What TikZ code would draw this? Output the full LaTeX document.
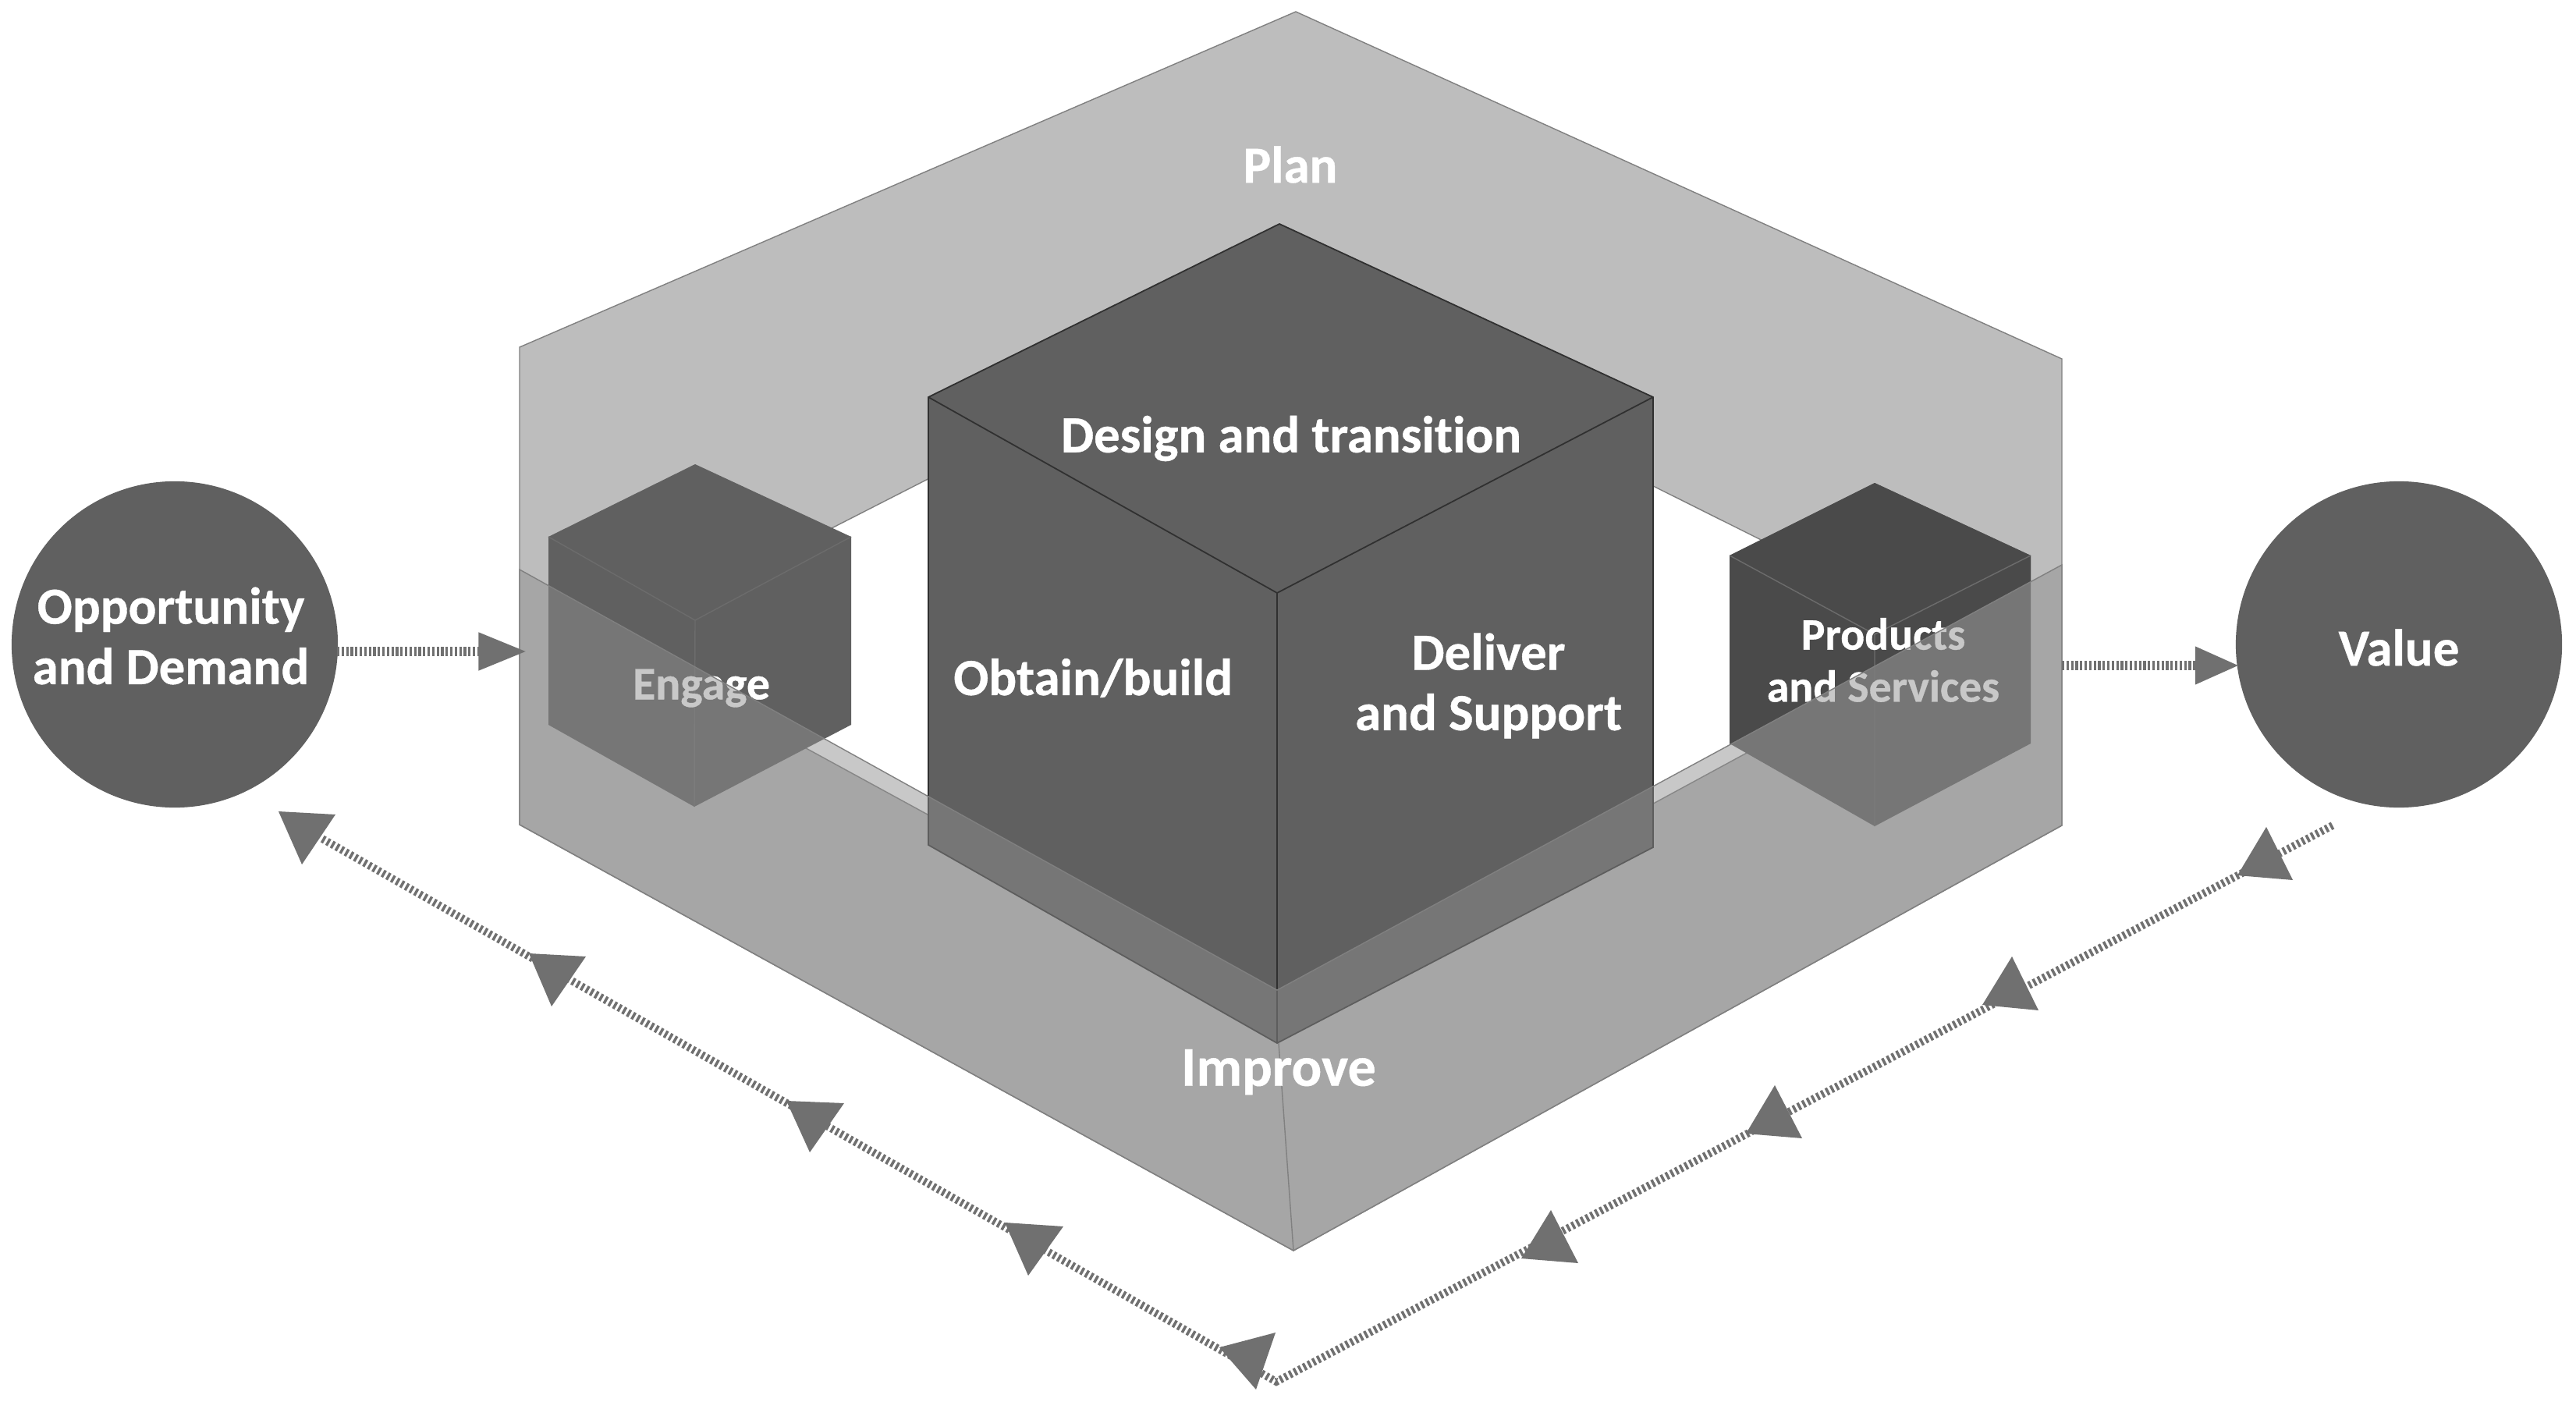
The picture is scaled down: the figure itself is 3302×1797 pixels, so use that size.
\documentclass[tikz,border=0pt]{standalone}
\usepackage{fontspec}
\setmainfont{Carlito}[Ligatures=NoCommon, BoldFeatures={FakeBold=0.6}]
\usetikzlibrary{arrows.meta}
\definecolor{sheetgray}{HTML}{BDBDBD}
\definecolor{overlaygray}{HTML}{8E8E8E}
\definecolor{cubegray}{HTML}{606060}
\definecolor{cubedark}{HTML}{4A4A4A}
\definecolor{flowgray}{HTML}{707070}
\definecolor{cubeline}{HTML}{303030}
\tikzset{
  labeltext/.style={text=white, font=\fontsize{19}{22}\selectfont\bfseries, align=center, inner sep=0pt},
  smalltext/.style={labeltext, font=\fontsize{16.4}{19}\selectfont\bfseries},
  roundnode/.style={circle, fill=cubegray, minimum size=4.18cm, inner sep=0pt},
  flowline/.style={draw=flowgray, line width=2.8pt, dash pattern=on 1pt off 0.94pt},
  flowstraight/.style={draw=flowgray, line width=3.3pt, dash pattern=on 0.9pt off 0.75pt},
  flowtip/.style={fill=flowgray, draw=none},
  sheetedge/.style={draw=gray, line width=0.4pt},
  cubeedge/.style={draw=cubeline, line width=0.5pt},
  faintedge/.style={draw=gray!85!black, line width=0.4pt}
}
\begin{document}
\begin{tikzpicture}[x=0.01cm, y=-0.01cm]
\useasboundingbox (0,0) rectangle (3302,1797);
\fill[white] (0,0) rectangle (3302,1797);
\filldraw[fill=sheetgray, sheetedge, even odd rule] (1661,15) -- (2643,460) -- (2643,1058) -- (1658,1603) -- (666,1057) -- (666,445) -- cycle
  (1640,384) -- (782,822) -- (1640,1290) -- (2510,818) -- cycle;
\fill[cubegray] (891,595) -- (1091,688) -- (1091,929) -- (890,1034) -- (703,929) -- (703,688) -- cycle;
\draw[faintedge] (703,688) -- (891,795) -- (1091,688) (891,795) -- (890,1034);
\fill[cubegray] (2403,619) -- (2603,712) -- (2603,953) -- (2403,1059) -- (2217,953) -- (2217,712) -- cycle;
\fill[cubedark] (2403,619) -- (2603,712) -- (2603,745) -- (2217,954) -- (2217,712) -- cycle;
\draw[faintedge] (2217,712) -- (2403,813) -- (2603,712) (2403,813) -- (2403,1059);
\filldraw[fill=cubegray, cubeedge] (1640,287) -- (2119,509) -- (2119,1086) -- (1637,1337) -- (1190,1083) -- (1190,509) -- cycle;
\draw[cubeedge] (1190,509) -- (1637,760) -- (2119,509) (1637,760) -- (1637,1337);
\node[smalltext, font=\fontsize{17}{19}\selectfont\bfseries] (EngageText) at (899,882) {Engage};
\node[smalltext] (ProductsText) at (2414,846) {Products\\and Services};
\filldraw[fill=overlaygray, fill opacity=0.485, sheetedge] (666,730) -- (1637,1269) -- (2643,724) -- (2643,1058) -- (1658,1603) -- (666,1057) -- cycle;
\draw[sheetedge] (1639,1337) -- (1658,1603);
\node[labeltext] (PlanText) at (1654,211) {Plan};
\node[labeltext, font=\fontsize{20.5}{24}\selectfont\bfseries] (ImproveText) at (1639,1374) {Improve};
\node[labeltext] (DesignText) at (1655,562) {Design and transition};
\node[labeltext] (ObtainText) at (1401,869) {Obtain/build};
\node[labeltext] (DeliverText) at (1908,879) {Deliver\\and Support};
\node[roundnode] (OppDemand) at (224,826) {};
\node[roundnode] (ValueNode) at (3075,826) {};
\node[labeltext] (OppDemandText) at (219,815) {Opportunity\\and Demand};
\node[labeltext] (ValueText) at (3075,830) {Value};
\coordinate (DemandOut) at (432,835);
\coordinate (EngageIn) at (675,835);
\coordinate (ProductsOut) at (2643,853);
\coordinate (ValueIn) at (2870,853);
\coordinate (ValueOut) at (2990,1058);
\coordinate (LoopCorner) at (1636,1771);
\coordinate (DemandBack) at (413,1075);
\draw[flowstraight, -{Triangle[length=17.5pt, width=13pt, fill=flowgray]}] (DemandOut) -- (EngageIn);
\draw[flowstraight, -{Triangle[length=16pt, width=13pt, fill=flowgray]}] (ProductsOut) -- (ValueIn);
\draw[flowline] (ValueOut) -- (LoopCorner) -- (DemandBack);
\fill[flowtip] (357,1040) -- (430,1044) -- (387,1108) -- cycle;
\fill[flowtip] (678,1222) -- (751,1226) -- (707,1290) -- cycle;
\fill[flowtip] (1008,1411) -- (1082,1414) -- (1038,1477) -- cycle;
\fill[flowtip] (1288,1567) -- (1363,1572) -- (1318,1635) -- cycle;
\fill[flowtip] (1563,1727) -- (1635,1708) -- (1610,1781) -- cycle;
\fill[flowtip] (1950,1613) -- (1988,1551) -- (2023,1619) -- cycle;
\fill[flowtip] (2238,1453) -- (2275,1391) -- (2310,1459) -- cycle;
\fill[flowtip] (2541,1288) -- (2579,1226) -- (2613,1295) -- cycle;
\fill[flowtip] (2868,1122) -- (2905,1060) -- (2939,1128) -- cycle;
\end{tikzpicture}
\end{document}
